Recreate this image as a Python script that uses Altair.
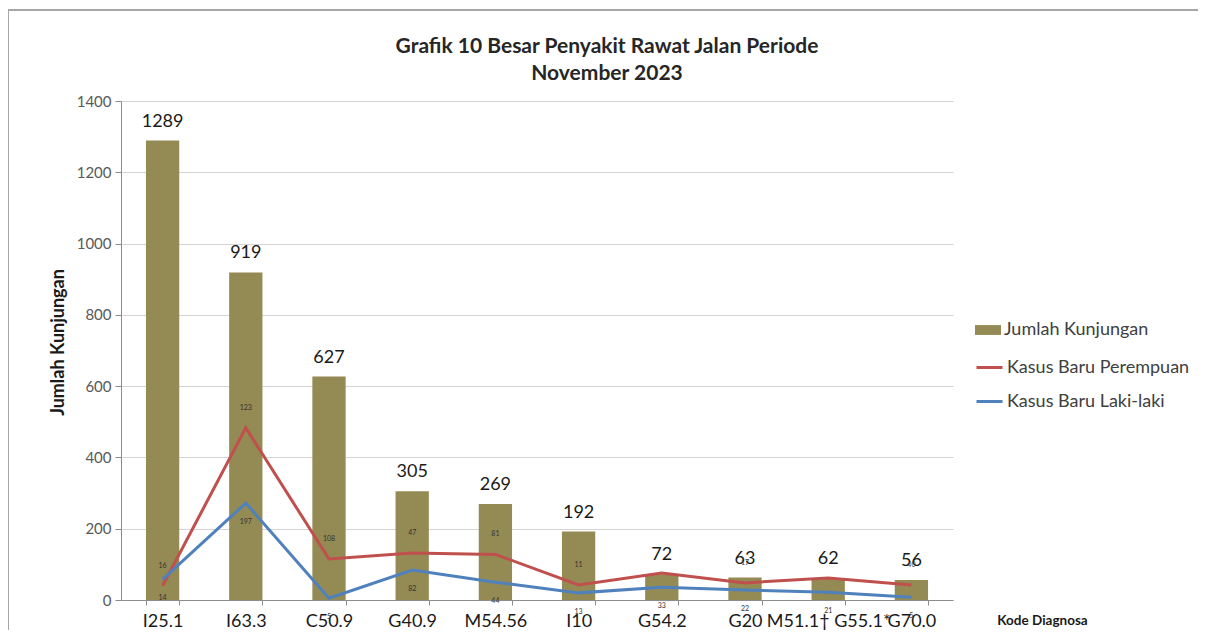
import altair as alt
import pandas as pd

categories = ["I25.1", "I63.3", "C50.9", "G40.9", "M54.56", "I10", "G54.2", "G20", "M51.1† G55.1*", "G70.0"]
jumlah_kunjungan = [1289, 919, 627, 305, 269, 192, 72, 63, 62, 56]
kasus_perempuan = [40, 483, 115, 132, 128, 42, 76, 48, 62, 42]
kasus_laki = [58, 272, 5, 84, 50, 20, 36, 28, 22, 8]
label_perempuan = ["16", "123", "108", "47", "81", "11", "", "17", "", "40"]
label_laki = ["14", "197", "5", "82", "44", "13", "33", "22", "21", "5"]

SERIES_BAR = "Jumlah Kunjungan"
SERIES_P = "Kasus Baru Perempuan"
SERIES_L = "Kasus Baru Laki-laki"

FONT = "Lato"

bars_df = pd.DataFrame({
    "kode": categories,
    "jumlah": jumlah_kunjungan,
    "seri": [SERIES_BAR] * len(categories),
})

lines_df = pd.DataFrame({
    "kode": categories * 2,
    "nilai": kasus_perempuan + kasus_laki,
    "seri": [SERIES_P] * len(categories) + [SERIES_L] * len(categories),
    "label": label_perempuan + label_laki,
})

x_enc = alt.X(
    "kode:N",
    sort=categories,
    scale=alt.Scale(paddingInner=0.6, paddingOuter=0.3),
    axis=alt.Axis(
        title="Kode Diagnosa",
        titleFont=FONT,
        titleFontSize=13.5,
        titleFontWeight="bold",
        titleColor="#1a1a1a",
        titleX=921,
        titleY=20,
        titleAlign="center",
        titleBaseline="middle",
        labelAngle=0,
        labelFont=FONT,
        labelFontSize=18,
        labelColor="#1a1a1a",
        labelPadding=7,
        labelOverlap=False,
        labelLimit=300,
        tickBand="extent",
        tickSize=5,
        tickColor="#8c8c8c",
        domainColor="#8c8c8c",
        grid=False,
    ),
)

y_axis = alt.Axis(
    values=[0, 200, 400, 600, 800, 1000, 1200, 1400],
    format="d",
    title="Jumlah Kunjungan",
    titleFont=FONT,
    titleFontSize=18,
    titleFontWeight="bold",
    titleColor="#1a1a1a",
    titlePadding=10,
    titleY=241,
    titleX=-63,
    titleAngle=270,
    titleAlign="center",
    titleBaseline="middle",
    labelFont=FONT,
    labelFontSize=15,
    labelColor="#595959",
    labelPadding=4,
    tickSize=6,
    tickColor="#8c8c8c",
    domainColor="#8c8c8c",
    gridColor="#d4d4d4",
    grid=True,
)


def y_enc(field):
    return alt.Y(field, type="quantitative", scale=alt.Scale(domain=[0, 1400], nice=False), axis=y_axis)


bar_path = "M-1,-0.38H1V0.38H-1Z"

bars = alt.Chart(bars_df).mark_bar(color="#948A54").encode(
    x=x_enc,
    y=y_enc("jumlah"),
    fill=alt.Fill(
        "seri:N",
        scale=alt.Scale(domain=[SERIES_BAR], range=["#948A54"]),
        legend=alt.Legend(
            title=None,
            orient="none",
            legendX=854,
            legendY=216,
            symbolType=bar_path,
            symbolSize=676,
            symbolStrokeWidth=0,
            labelFont=FONT,
            labelFontSize=18,
            labelColor="#404040",
            labelOffset=3,
            labelLimit=300,
            padding=0,
        ),
    ),
)

bar_text = alt.Chart(bars_df).mark_text(
    baseline="bottom", dy=-10, fontSize=18, font=FONT, color="#1a1a1a"
).encode(
    x=x_enc,
    y=y_enc("jumlah"),
    text=alt.Text("jumlah:Q"),
)

lines = alt.Chart(lines_df).mark_line(strokeWidth=3).encode(
    x=x_enc,
    y=y_enc("nilai"),
    stroke=alt.Stroke(
        "seri:N",
        sort=[SERIES_P, SERIES_L],
        scale=alt.Scale(domain=[SERIES_P, SERIES_L], range=["#C0504D", "#4F81BD"]),
        legend=alt.Legend(
            title=None,
            orient="none",
            legendX=854,
            legendY=252,
            symbolType="stroke",
            symbolSize=676,
            symbolStrokeWidth=3,
            labelFont=FONT,
            labelFontSize=18,
            labelColor="#404040",
            labelOffset=3,
            labelLimit=300,
            rowPadding=10,
            padding=0,
        ),
    ),
    detail="seri:N",
)

small_p = alt.Chart(lines_df[lines_df["seri"] == SERIES_P]).mark_text(
    fontSize=7, font=FONT, color="#333333", dy=-20
).encode(x=x_enc, y=y_enc("nilai"), text="label:N")

small_l = alt.Chart(lines_df[lines_df["seri"] == SERIES_L]).mark_text(
    fontSize=7, font=FONT, color="#333333", dy=19
).encode(x=x_enc, y=y_enc("nilai"), text="label:N")

frame_df = pd.DataFrame({"a": [0]})
frame_top = alt.Chart(frame_df).mark_rule(color="#a6a6a6", strokeWidth=2).encode(
    x=alt.value(-113), x2=alt.value(1085), y=alt.value(-91)
)
frame_left = alt.Chart(frame_df).mark_rule(color="#a6a6a6", strokeWidth=2).encode(
    x=alt.value(-113), y=alt.value(-91), y2=alt.value(536)
)

chart = alt.layer(bars, lines, bar_text, small_p, small_l, frame_top, frame_left).resolve_scale(
    y="shared"
).properties(
    width=832,
    height=499,
    background="white",
    title=alt.Title(
        ["Grafik 10 Besar Penyakit Rawat Jalan Periode", "November 2023"],
        font=FONT,
        fontSize=21,
        fontWeight="bold",
        color="#262626",
        lineHeight=27,
        anchor="middle",
        frame="group",
        dx=70,
        dy=93,
        offset=18,
    ),
    autosize=alt.AutoSizeParams(type="none"),
    padding={"left": 113, "top": 93, "right": 245, "bottom": 30},
).configure_view(stroke="transparent", strokeOpacity=0, strokeWidth=0)

chart.save("out.html", embed_options={"renderer": "svg", "actions": False})
